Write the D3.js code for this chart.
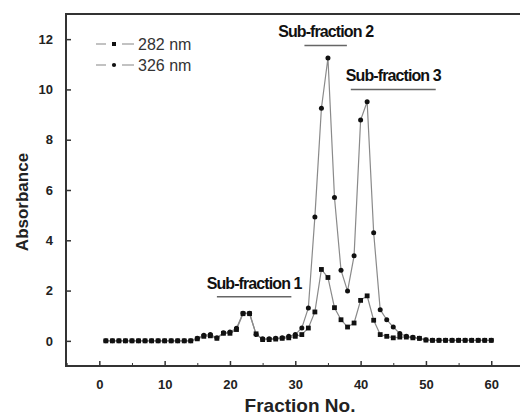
<!DOCTYPE html>
<html>
<head>
<meta charset="utf-8">
<script src="https://cdn.jsdelivr.net/npm/d3@7"></script>
<style>
    body { margin: 0; background: #fff; }
    svg { display: block; font-family: 'Liberation Sans', Arial, sans-serif; }
    .tick-label { font-size: 13px; font-weight: bold; fill: #222; }
    .axis-title { font-weight: bold; fill: #222; }
    .sub-label { font-size: 16px; font-weight: bold; fill: #111; letter-spacing: -0.9px; }
    .legend-label { font-size: 16px; fill: #333; }
</style>
</head>
<body>
<div id="chart"></div>
<script>
var fractions = d3.range(1, 61)

var abs282 = [
    0, 0, 0, 0, 0, 0, 0, 0, 0, 0,
    0, 0, 0, 0, 0.08, 0.18, 0.2, 0.1, 0.3, 0.3,
    0.45, 1.08, 1.08, 0.28, 0.05, 0.05, 0.07, 0.1, 0.12, 0.18,
    0.25, 0.51, 1.15, 2.84, 2.52, 1.32, 0.84, 0.55, 0.71, 1.61,
    1.79, 0.82, 0.25, 0.18, 0.12, 0.15, 0.15, 0.12, 0.1, 0.03,
    0.02, 0.02, 0.02, 0.02, 0.02, 0.02, 0.02, 0.02, 0.02, 0.02
]

var abs326 = [
    0, 0, 0, 0, 0, 0, 0, 0, 0, 0,
    0, 0, 0, 0, 0.1, 0.22, 0.25, 0.12, 0.32, 0.35,
    0.5, 1.1, 1.1, 0.25, 0.08, 0.08, 0.1, 0.12, 0.18, 0.25,
    0.51, 1.31, 4.93, 9.25, 11.25, 5.7, 2.81, 1.98, 3.38, 8.78,
    9.51, 4.3, 1.24, 0.84, 0.55, 0.29, 0.18, 0.14, 0.1, 0.04,
    0.02, 0.02, 0.02, 0.02, 0.02, 0.02, 0.02, 0.02, 0.02, 0.02
]

var xTicks = [0, 10, 20, 30, 40, 50, 60]
var yTicks = [0, 2, 4, 6, 8, 10, 12]

var subFractions = [
    { label: 'Sub-fraction 1', from: 18, to: 29.4, level: 1.75 },
    { label: 'Sub-fraction 2', from: 31.4, to: 37.9, level: 11.75 },
    { label: 'Sub-fraction 3', from: 38.5, to: 51.5, level: 10.0 }
]

var legendItems = [
    { label: '282 nm', shape: 'square' },
    { label: '326 nm', shape: 'circle' }
]

var width = 520
var height = 416
var margin = { top: 14, left: 66, bottom: 50 }

var svg = d3.select('#chart').append('svg')
    .attr('width', width)
    .attr('height', height)

var x = d3.scaleLinear().domain([-5.1, 64.4]).range([margin.left, width])
var y = d3.scaleLinear().domain([-1, 13]).range([height - margin.bottom, margin.top])

var plotBottom = height - margin.bottom

// frame
svg.append('line')
    .attr('x1', margin.left).attr('x2', width)
    .attr('y1', margin.top).attr('y2', margin.top)
    .attr('stroke', '#333').attr('stroke-width', 2)
svg.append('line')
    .attr('x1', margin.left).attr('x2', width)
    .attr('y1', plotBottom).attr('y2', plotBottom)
    .attr('stroke', '#333').attr('stroke-width', 2)
svg.append('line')
    .attr('x1', margin.left).attr('x2', margin.left)
    .attr('y1', margin.top - 1).attr('y2', plotBottom + 1)
    .attr('stroke', '#333').attr('stroke-width', 2)

// x ticks (inward)
var xAxis = d3.axisBottom(x).tickValues(xTicks).tickSize(-5).tickPadding(14)
var gx = svg.append('g')
    .attr('transform', 'translate(0,' + plotBottom + ')')
    .call(xAxis)
gx.select('.domain').remove()
gx.selectAll('line').attr('stroke', '#333').attr('stroke-width', 1.5)
gx.selectAll('text').attr('class', 'tick-label').attr('font-family', null).attr('font-size', null)

var xMinor = d3.axisBottom(x).tickValues([-5, 5, 15, 25, 35, 45, 55]).tickSize(-3).tickFormat('')
var gxm = svg.append('g')
    .attr('transform', 'translate(0,' + plotBottom + ')')
    .call(xMinor)
gxm.select('.domain').remove()
gxm.selectAll('line').attr('stroke', '#333').attr('stroke-width', 1)

// y ticks (inward)
var yAxis = d3.axisLeft(y).tickValues(yTicks).tickSize(-5).tickPadding(13)
var gy = svg.append('g')
    .attr('transform', 'translate(' + margin.left + ',0)')
    .call(yAxis)
gy.select('.domain').remove()
gy.selectAll('line').attr('stroke', '#333').attr('stroke-width', 1.5)
gy.selectAll('text').attr('class', 'tick-label').attr('font-family', null).attr('font-size', null)

// axis titles
svg.append('text')
    .attr('class', 'axis-title')
    .attr('transform', 'translate(28,' + 202 + ') rotate(-90)')
    .attr('text-anchor', 'middle')
    .style('font-size', '17px')
    .text('Absorbance')

svg.append('text')
    .attr('class', 'axis-title')
    .attr('x', 300)
    .attr('y', 412)
    .attr('text-anchor', 'middle')
    .style('font-size', '19px')
    .text('Fraction No.')

// series
var line = d3.line()
    .x(function (d) { return x(d.f) })
    .y(function (d) { return y(d.v) })

function seriesData(values) {
    return fractions.map(function (f, i) { return { f: f, v: values[i] } })
}

var s282 = seriesData(abs282)
var s326 = seriesData(abs326)

svg.append('path').datum(s326)
    .attr('d', line).attr('fill', 'none')
    .attr('stroke', '#8a8a8a').attr('stroke-width', 1.2)
svg.append('path').datum(s282)
    .attr('d', line).attr('fill', 'none')
    .attr('stroke', '#8a8a8a').attr('stroke-width', 1.2)

svg.selectAll('.m326').data(s326).enter().append('circle')
    .attr('class', 'm326')
    .attr('cx', function (d) { return x(d.f) })
    .attr('cy', function (d) { return y(d.v) })
    .attr('r', 2.5)
    .attr('fill', '#111')

svg.selectAll('.m282').data(s282).enter().append('rect')
    .attr('class', 'm282')
    .attr('x', function (d) { return x(d.f) - 2.4 })
    .attr('y', function (d) { return y(d.v) - 2.4 })
    .attr('width', 4.8).attr('height', 4.8)
    .attr('fill', '#111')

// sub-fraction labels
subFractions.forEach(function (s) {
    svg.append('line')
        .attr('x1', x(s.from)).attr('x2', x(s.to))
        .attr('y1', y(s.level)).attr('y2', y(s.level))
        .attr('stroke', '#666').attr('stroke-width', 1.5)
    svg.append('text')
        .attr('class', 'sub-label')
        .attr('x', (x(s.from) + x(s.to)) / 2)
        .attr('y', y(s.level) - 8)
        .attr('text-anchor', 'middle')
        .text(s.label)
})

// legend
legendItems.forEach(function (item, i) {
    var ly = 44 + i * 21
    var g = svg.append('g')
    g.append('line').attr('x1', 96).attr('x2', 106).attr('y1', ly).attr('y2', ly)
        .attr('stroke', '#999').attr('stroke-width', 1.2)
    g.append('line').attr('x1', 122).attr('x2', 134).attr('y1', ly).attr('y2', ly)
        .attr('stroke', '#999').attr('stroke-width', 1.2)
    if (item.shape === 'square') {
        g.append('rect').attr('x', 112).attr('y', ly - 2).attr('width', 4).attr('height', 4).attr('fill', '#111')
    } else {
        g.append('circle').attr('cx', 114).attr('cy', ly).attr('r', 2.1).attr('fill', '#111')
    }
    g.append('text')
        .attr('class', 'legend-label')
        .attr('x', 138)
        .attr('y', ly + 6)
        .text(item.label)
})
</script>
</body>
</html>
